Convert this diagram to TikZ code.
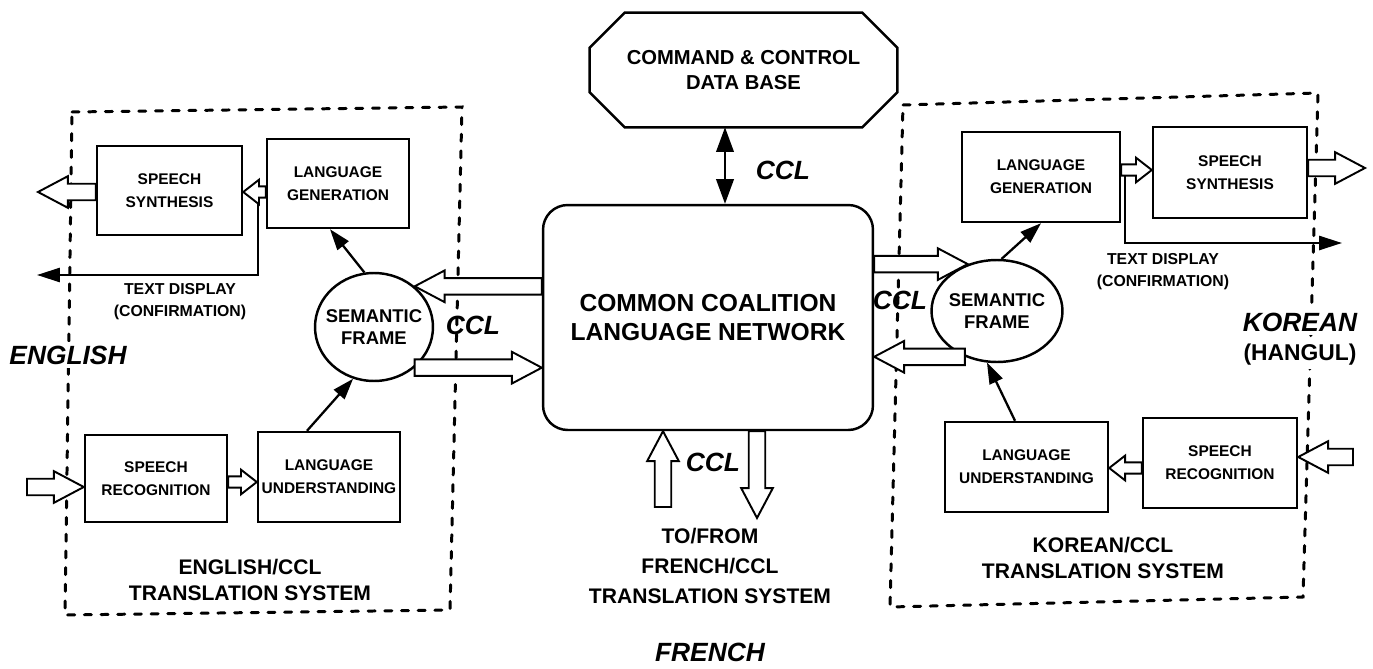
\documentclass[tikz,border=0pt]{standalone}
\usepackage{fontspec}
\setmainfont{Liberation Sans}
\usetikzlibrary{arrows.meta,calc,shapes.geometric}

\tikzset{
  blk/.style={draw, line width=1.4pt, align=center, inner sep=1pt,
    font=\fontsize{8.8}{13}\selectfont\bfseries},
  semframe/.style={draw, ellipse, line width=1.4pt, inner sep=0pt},
  sysbox/.style={line width=1.7pt, dash pattern=on 4pt off 5.5pt, line cap=round},
  link/.style={line width=1.3pt, -{Triangle[length=12pt,width=8pt]}},
  tdline/.style={line width=1.3pt, -{Triangle[length=13pt,width=8pt]}},
  tdlabel/.style={align=center, font=\fontsize{9}{12.5}\selectfont\bfseries},
  syslabel/.style={align=center, font=\fontsize{12}{15}\selectfont\bfseries},
  ccl/.style={font=\fontsize{15}{18}\selectfont\bfseries\itshape},
  lang/.style={fill=white, inner sep=2pt, font=\fontsize{15}{18}\selectfont\bfseries\itshape},
  fat w/.store in=\fatw, fat hw/.store in=\fathw, fat hl/.store in=\fathl,
  fat w=4.7pt, fat hw=9pt, fat hl=17pt,
  fat/.style={draw, fill=white, line width=1.1pt, line join=miter,
    to path={let \p1=(\tikztostart), \p2=(\tikztotarget),
      \p3=($(\p2)!\fathl!(\p1)$) in
      ($(\p1)!\fatw!90:(\p2)$) -- ($(\p3)!\fatw!90:(\p2)$) -- ($(\p3)!\fathw!90:(\p2)$)
      -- (\p2) -- ($(\p3)!\fathw!-90:(\p2)$) -- ($(\p3)!\fatw!-90:(\p2)$)
      -- ($(\p1)!\fatw!-90:(\p2)$) -- cycle}},
  fat small/.style={fat, fat w=3.2pt, fat hw=7pt, fat hl=9pt}
}

\begin{document}
\begin{tikzpicture}[x=0.02cm, y=-0.02cm]
\useasboundingbox (0,0) rectangle (1373,669);

\draw[sysbox] (72,112) -- (462,107) -- (450,610) -- (65,615) -- cycle;
\draw[sysbox] (903,105) -- (1318,93) -- (1303,597) -- (890,607) -- cycle;

\coordinate (tdL) at (258,192);
\coordinate (tdLend) at (37,275);
\coordinate (tdR) at (1125,172);
\coordinate (tdRend) at (1342,243);
\draw[tdline] (tdL) |- (tdLend);
\draw[tdline] (tdR) |- (tdRend);

\node[blk, minimum width=2.9cm, minimum height=1.78cm] (ssL) at (169.5,190.5) {SPEECH\\SYNTHESIS};
\node[blk, minimum width=2.84cm, minimum height=1.78cm] (lgL) at (338,183.5) {LANGUAGE\\GENERATION};
\node[blk, minimum width=2.84cm, minimum height=1.74cm] (srL) at (156,478.5) {SPEECH\\RECOGNITION};
\node[blk, minimum width=2.84cm, minimum height=1.8cm] (luL) at (329,477) {LANGUAGE\\UNDERSTANDING};
\node[blk, minimum width=3.16cm, minimum height=1.8cm] (lgR) at (1041,177) {LANGUAGE\\GENERATION};
\node[blk, minimum width=3.08cm, minimum height=1.82cm] (ssR) at (1230,172.5) {SPEECH\\SYNTHESIS};
\node[blk, minimum width=3.26cm, minimum height=1.8cm] (luR) at (1026.5,467) {LANGUAGE\\UNDERSTANDING};
\node[blk, minimum width=3.08cm, minimum height=1.8cm] (srR) at (1220,463) {SPEECH\\RECOGNITION};

\node[semframe, minimum width=2.36cm, minimum height=2.16cm] (sfL) at (374,327) {};
\node[semframe, minimum width=2.62cm, minimum height=2.04cm] (sfR) at (997,311) {};
\node[align=center, font=\fontsize{10.5}{13}\selectfont\bfseries] (sfLtxt) at (sfL) {SEMANTIC\\FRAME};
\node[align=center, font=\fontsize{10.5}{13}\selectfont\bfseries] (sfRtxt) at (sfR) {SEMANTIC\\FRAME};

\node[draw, rounded corners=14pt, line width=1.4pt, minimum width=6.6cm, minimum height=4.5cm,
  align=center, font=\fontsize{14}{17}\selectfont\bfseries] (ccln) at (708,317.5) {COMMON COALITION\\LANGUAGE NETWORK};

\node[minimum width=6.14cm, minimum height=2.28cm, align=center,
  font=\fontsize{11.5}{14}\selectfont\bfseries] (db) at (743.5,70) {COMMAND \& CONTROL\\DATA BASE};
\draw[line width=1.4pt] ([xshift=0.7cm]db.north west) -- ([xshift=-0.7cm]db.north east)
  -- ([yshift=-0.7cm]db.north east) -- ([yshift=0.7cm]db.south east)
  -- ([xshift=-0.7cm]db.south east) -- ([xshift=0.7cm]db.south west)
  -- ([yshift=0.7cm]db.south west) -- ([yshift=-0.7cm]db.north west) -- cycle;

\coordinate (outL) at (38,192);
\coordinate (inL) at (27,487);
\coordinate (outR) at (1365,168);
\coordinate (inR) at (1353,457);
\coordinate (frUp) at (663,507);
\coordinate (frDn) at (757,518);

\draw[fat] ([yshift=-0.03cm]ssL.west) to (outL);
\draw[fat small] ([yshift=-0.17cm]lgL.west) to ([yshift=-0.03cm]ssL.east);
\draw[fat] (inL) to ([yshift=-0.17cm]srL.west);
\draw[fat small] ([yshift=-0.07cm]srL.east) to ([yshift=-0.1cm]luL.west);
\draw[fat] (ccln.west |- sfL.45) to (sfL.45);
\draw[fat] (sfL.-45) to (sfL.-45 -| ccln.west);
\draw[fat] (ccln.east |- sfR.122) to (sfR.122);
\draw[fat] (sfR.235) to (sfR.235 -| ccln.east);
\draw[fat small] ([yshift=0.14cm]lgR.east) to ([yshift=0.05cm]ssR.west);
\draw[fat] ([yshift=0.09cm]ssR.east) to (outR);
\draw[fat] (inR) to ([yshift=0.12cm]srR.east);
\draw[fat small] ([yshift=-0.1cm]srR.west) to ([yshift=-0.02cm]luR.east);
\draw[fat] (frUp) to (frUp |- ccln.south);
\draw[fat] (frDn |- ccln.south) to (frDn);

\draw[link] (sfL.100) -- ([xshift=-0.16cm]lgL.south);
\draw[link] ([xshift=-0.44cm]luL.north) -- (sfL.248);
\draw[link] (sfR.85) -- (lgR.south);
\draw[link] ([xshift=-0.23cm]luR.north) -- (sfR.259);
\draw[line width=1.1pt, {Triangle[length=14pt,width=10pt]}-{Triangle[length=14pt,width=10pt]}]
  ([xshift=-0.37cm]db.south) -- ([xshift=-0.37cm]db.south |- ccln.north);

\node[ccl] (cclT) at (783,170) {CCL};
\node[ccl] (cclL) at (473,325) {CCL};
\node[ccl] (cclR) at (900,300) {CCL};
\node[ccl] (cclB) at (713,462) {CCL};

\node[tdlabel] (tdLtxt) at (180,302) {TEXT DISPLAY\\(CONFIRMATION)};
\node[tdlabel] (tdRtxt) at (1163,272) {TEXT DISPLAY\\(CONFIRMATION)};

\node[lang] (eng) at (68,355) {ENGLISH};
\node[lang] (kor) at (1300,322) {KOREAN};
\node[fill=white, inner sep=2pt, font=\fontsize{13}{16}\selectfont\bfseries] (hangul) at (1300,355) {(HANGUL)};
\node[lang, fill=none] (fre) at (710,652) {FRENCH};

\node[syslabel] (engsys) at (250,580) {ENGLISH/CCL\\TRANSLATION SYSTEM};
\node[syslabel] (korsys) at (1103,558) {KOREAN/CCL\\TRANSLATION SYSTEM};
\node[syslabel, font=\fontsize{12}{17}\selectfont\bfseries] (fresys) at (710,566) {TO/FROM\\FRENCH/CCL\\TRANSLATION SYSTEM};
\end{tikzpicture}
\end{document}
